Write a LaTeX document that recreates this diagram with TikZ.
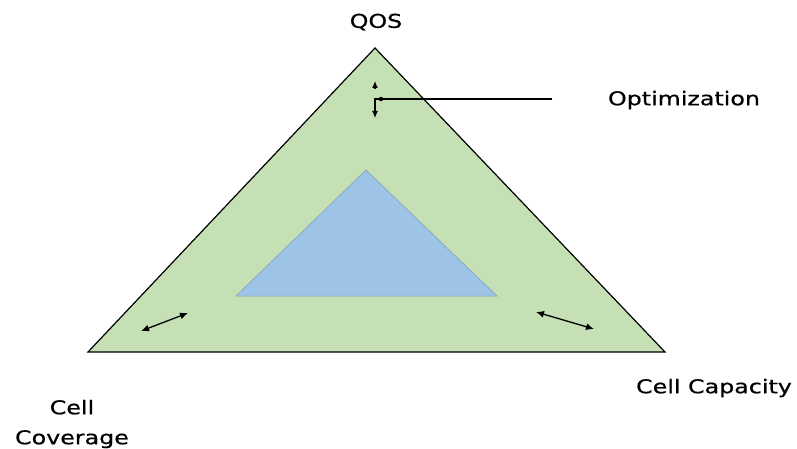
\documentclass[tikz,border=0pt]{standalone}
\usepackage{fontspec}
\setmainfont{DejaVu Sans}[FakeStretch=1.25,FakeBold=0.6]
\usetikzlibrary{arrows.meta}
\definecolor{triGreen}{RGB}{197,224,180}
\definecolor{triBlue}{RGB}{157,195,230}

\begin{document}
\begin{tikzpicture}[x=1pt,y=-1pt,font=\fontsize{19}{22}\selectfont,
  tradeoff/.style={{Latex[length=8pt,width=7pt]}-{Latex[length=8pt,width=7pt]},line width=1.3pt},
  lbl/.style={inner sep=0pt}]
  \useasboundingbox (0,0) rectangle (797,449);
  % outer triangle
  \filldraw[fill=triGreen,draw=black,line width=1.2pt] (375,48) -- (665,352) -- (88,352) -- cycle;
  % inner triangle
  \filldraw[fill=triBlue,draw=triBlue!80!black,line width=0.5pt] (366,170) -- (497,296) -- (236,296) -- cycle;
  % corner labels
  \node[lbl] (qos) at (376,22) {QOS};
  \node[lbl] (opt) at (684,100) {Optimization};
  \node[lbl,align=center] (cov) at (72,424) {Cell\\[8pt]Coverage};
  \node[lbl] (cap) at (714,388) {Cell Capacity};
  % optimization pointer
  \coordinate (optend) at (552,99);
  \coordinate (dot) at (381,99);
  \coordinate (bend) at (375,99);
  \coordinate (down) at (375,118);
  \coordinate (upbase) at (375,89);
  \coordinate (up) at (375,81);
  \fill (dot) circle (2.2pt);
  \draw[line width=1.2pt] (optend) -- (dot);
  \draw[line width=1.2pt,-{Latex[length=7pt,width=6pt]}] (dot) -- (bend) -- (down);
  \draw[line width=1.2pt,-{Latex[length=7pt,width=6pt]}] (upbase) -- (up);
  % trade-off arrows
  \coordinate (l1) at (141,331);
  \coordinate (l2) at (188,313);
  \coordinate (r1) at (536,312);
  \coordinate (r2) at (594,329);
  \draw[tradeoff] (l1) -- (l2);
  \draw[tradeoff] (r1) -- (r2);
\end{tikzpicture}
\end{document}
